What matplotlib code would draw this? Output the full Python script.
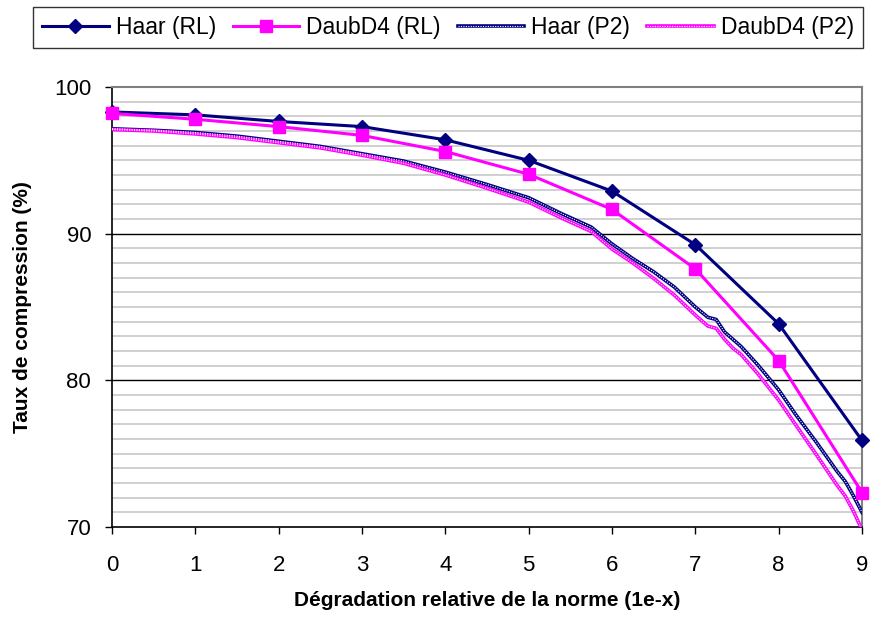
import numpy as np
import matplotlib
matplotlib.use("Agg")
import matplotlib.pyplot as plt
from matplotlib.legend_handler import HandlerTuple

plt.rcParams['font.family'] = ['Liberation Sans', 'DejaVu Sans']

# RL series: one point per integer degradation level
x_rl = [0, 1, 2, 3, 4, 5, 6, 7, 8, 9]
haar_rl = [98.3, 98.1, 97.65, 97.3, 96.4, 95.0, 92.9, 89.25, 83.85, 75.9]
daub_rl = [98.2, 97.8, 97.3, 96.7, 95.6, 94.05, 91.65, 87.6, 81.35, 72.35]

# P2 series: dense curves
x_p2 = [0, 0.5, 1.0, 1.5, 2.0, 2.5, 3.0, 3.5, 4.0, 4.5, 5.0, 5.4, 5.75, 6.0,
        6.25, 6.5, 6.75, 7.0, 7.15, 7.25, 7.35, 7.45, 7.55, 7.75, 8.0, 8.2,
        8.45, 8.7, 8.8, 8.9, 9.0]
haar_p2 = [97.15, 97.05, 96.9, 96.65, 96.3, 95.95, 95.45, 94.95, 94.2, 93.35,
           92.45, 91.35, 90.45, 89.3, 88.3, 87.4, 86.35, 85.0, 84.3, 84.15,
           83.3, 82.8, 82.3, 81.05, 79.35, 77.7, 75.8, 73.8, 73.1, 72.1, 71.0]
daub_p2 = [97.1, 97.0, 96.8, 96.55, 96.2, 95.85, 95.35, 94.8, 94.0, 93.1,
           92.15, 91.05, 90.15, 88.95, 88.0, 86.95, 85.8, 84.45, 83.7, 83.55,
           82.8, 82.2, 81.75, 80.45, 78.65, 77.0, 74.95, 72.85, 72.1, 71.05, 69.8]

navy = '#000080'
magenta = '#FF00FF'

fig = plt.figure(figsize=(8.95, 6.18), dpi=100)
ax = fig.add_axes([112/895, 1-527/618, 750/895, 440/618])

# gridlines: light gray every unit, black at the majors
for v in range(71, 100):
    if v % 10 == 0:
        ax.axhline(v, color='black', lw=1.0, zorder=1)
    else:
        ax.axhline(v, color='#c4c4c4', lw=1.1, zorder=1)

# P2 curves: coloured line with a white dotted core for the textured look
l3, = ax.plot(x_p2, haar_p2, color=navy, lw=2.6, zorder=3)
l3w, = ax.plot(x_p2, haar_p2, color='white', lw=0.8, ls=(0, (1, 1.2)), zorder=3.1)
l4, = ax.plot(x_p2, daub_p2, color=magenta, lw=2.6, zorder=3)
l4w, = ax.plot(x_p2, daub_p2, color='white', lw=0.8, ls=(0, (1, 1.2)), zorder=3.1)

l1, = ax.plot(x_rl, haar_rl, color=navy, lw=2.2, marker='D', ms=7.5, zorder=4, clip_on=False)
l2, = ax.plot(x_rl, daub_rl, color=magenta, lw=2.2, marker='s', ms=8.5, zorder=4, clip_on=False)

ax.set_xlim(0, 9)
ax.set_ylim(70, 100)
ax.set_xticks(range(0, 10))
ax.set_yticks([70, 80, 90, 100])
ax.tick_params(axis='both', labelsize=16, length=5, width=1, direction='out', color='black')
ax.tick_params(axis='x', pad=15)
ax.tick_params(axis='y', pad=10)

for s in ['top', 'right']:
    ax.spines[s].set_color('#808080')
    ax.spines[s].set_linewidth(1.5)
for s in ['left', 'bottom']:
    ax.spines[s].set_color('black')
    ax.spines[s].set_linewidth(1.2)

ax.set_xlabel('Dégradation relative de la norme (1e-x)', fontsize=15, fontweight='bold')
ax.xaxis.set_label_coords(0.5, -(601 - 527) / 440)
ax.xaxis.label.set_verticalalignment('center')
ax.set_ylabel('Taux de compression (%)', fontsize=15, fontweight='bold')
ax.yaxis.set_label_coords(-(112 - 23) / 750, 0.5)
ax.yaxis.label.set_verticalalignment('center')

leg = fig.legend([l1, l2, (l3, l3w), (l4, l4w)],
                 ['Haar (RL)', 'DaubD4 (RL)', 'Haar (P2)', 'DaubD4 (P2)'],
                 handler_map={tuple: HandlerTuple(ndivide=1, pad=0)},
                 loc='center', bbox_to_anchor=(448/895, 1-27.5/618), ncol=4,
                 fontsize=16.5, frameon=True, fancybox=False, edgecolor='black',
                 handlelength=2.9, handletextpad=0.3, columnspacing=0.75,
                 borderpad=0.4, borderaxespad=0)
leg.get_frame().set_linewidth(1.0)

fig.savefig('out.png', dpi=100)
